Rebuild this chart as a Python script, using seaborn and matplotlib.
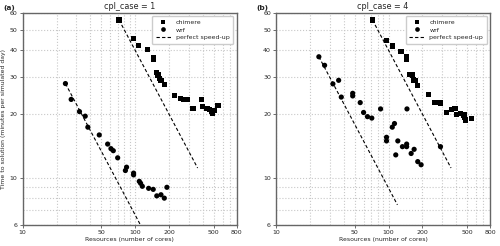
import numpy as np
import pandas as pd
import matplotlib
matplotlib.use("Agg")
import matplotlib.pyplot as plt
import seaborn as sns
from matplotlib.ticker import FixedLocator, FixedFormatter, NullFormatter

# cpl_case = 1
chimere1_cores = [72, 97, 108, 129, 145, 145, 154, 160, 165, 170, 182, 225, 253, 269, 290, 327, 388, 398, 436, 461, 477, 490, 504, 547]
chimere1_time = [55.5, 45.4, 41.9, 40.3, 36.9, 36.3, 31.4, 30.5, 29.4, 28.8, 27.4, 24.5, 23.7, 23.3, 23.4, 21.2, 23.3, 21.6, 21.2, 21.0, 20.5, 20.0, 20.8, 21.9]
wrf1_cores = [24, 27, 32, 36, 38, 48, 57, 61, 64, 70, 82, 84, 97, 97, 109, 112, 116, 132, 145, 156, 170, 182, 192]
wrf1_time = [27.8, 23.4, 20.5, 19.5, 17.3, 15.9, 14.4, 13.7, 13.4, 12.4, 10.8, 11.2, 10.5, 10.3, 9.6, 9.4, 9.1, 8.9, 8.8, 8.2, 8.3, 8.0, 9.0]

# cpl_case = 4
chimere4_cores = [72, 96, 108, 129, 145, 145, 155, 164, 167, 172, 182, 227, 256, 275, 291, 327, 365, 391, 402, 440, 465, 478, 471, 488, 548]
chimere4_time = [55.5, 44.3, 41.8, 39.3, 37.2, 36.3, 30.8, 30.5, 28.9, 28.7, 27.3, 24.7, 22.7, 22.7, 22.5, 20.3, 21.0, 21.2, 19.9, 20.0, 19.7, 19.9, 19.3, 18.7, 19.05]
wrf4_cores = [24, 27, 32, 36, 38, 48, 48, 56, 60, 65, 71, 85, 146, 113, 108, 96, 96, 121, 133, 145, 145, 116, 159, 169, 182, 195, 290]
wrf4_time = [37.2, 33.9, 27.7, 28.8, 24.0, 25.0, 24.3, 22.6, 20.3, 19.4, 19.1, 21.1, 21.1, 18.0, 17.3, 15.5, 14.9, 14.9, 14.0, 14.4, 14.0, 12.8, 13.0, 13.6, 11.9, 11.5, 14.0]

cases = [1, 4]
panel_labels = ["(a)", "(b)"]

frames = []
for case, cc, ct, wc, wt in [(1, chimere1_cores, chimere1_time, wrf1_cores, wrf1_time),
                             (4, chimere4_cores, chimere4_time, wrf4_cores, wrf4_time)]:
    frames.append(pd.DataFrame({"cores": cc, "time": ct, "model": "chimere", "case": case}))
    frames.append(pd.DataFrame({"cores": wc, "time": wt, "model": "wrf", "case": case}))
df = pd.concat(frames, ignore_index=True)

sns.set_style("ticks")
plt.rcParams["font.family"] = ["DejaVu Sans"]

fig, axes = plt.subplots(1, 2, figsize=(5.0, 2.46), dpi=100)
fig.subplots_adjust(left=0.0454, right=0.98, bottom=0.087, top=0.948, wspace=0.185)

for ax, case, lab in zip(axes, cases, panel_labels):
    sub = df[df["case"] == case]
    sns.scatterplot(data=sub, x="cores", y="time", style="model",
                    markers={"chimere": "s", "wrf": "o"}, color="black",
                    s=14, edgecolor="black", linewidth=0, ax=ax, zorder=3)
    # perfect speed-up lines from first point of each model, over a factor 5
    first = True
    for model in ["chimere", "wrf"]:
        m = sub[sub["model"] == model]
        n0 = m["cores"].iloc[0]
        t0 = m["time"].iloc[0]
        n = np.array([n0, 5 * n0])
        ax.plot(n, t0 * n0 / n, ls=(0, (3, 2)), color="black", lw=0.8,
                label="perfect speed-up" if first else None, zorder=2)
        first = False

    ax.set_xscale("log")
    ax.set_yscale("log")
    ax.set_xlim(10, 800)
    ax.set_ylim(6, 60)
    ax.xaxis.set_major_locator(FixedLocator([10, 50, 100, 200, 500, 800]))
    ax.xaxis.set_major_formatter(FixedFormatter(["10", "50", "100", "200", "500", "800"]))
    ax.xaxis.set_minor_locator(FixedLocator([20, 30, 40, 60, 70, 80, 90, 300, 400, 600, 700]))
    ax.xaxis.set_minor_formatter(NullFormatter())
    ax.yaxis.set_major_locator(FixedLocator([6, 10, 20, 30, 40, 50, 60]))
    ax.yaxis.set_major_formatter(FixedFormatter(["6", "10", "20", "30", "40", "50", "60"]))
    ax.yaxis.set_minor_locator(FixedLocator([7, 8, 9]))
    ax.yaxis.set_minor_formatter(NullFormatter())
    ax.grid(which="both", ls=":", color="#c8c8c8", lw=0.8)
    ax.tick_params(which="major", labelsize=4.5, length=2.5, width=0.6, pad=1.2, color="#555555")
    ax.tick_params(which="minor", length=0)
    for sp in ax.spines.values():
        sp.set_color("#666666")
        sp.set_linewidth(1.0)

    ax.set_xlabel("Resources (number of cores)", fontsize=4.4, labelpad=1.5)
    ax.set_title(f"cpl_case = {case}", fontsize=5.8, pad=3)
    ax.text(-0.035, 1.01, lab, transform=ax.transAxes, fontsize=5.3, fontweight="bold",
            ha="right", va="bottom")
    h, l = ax.get_legend_handles_labels()
    ax.legend(h, l, loc="upper right", fontsize=4.5, frameon=True, framealpha=1,
              edgecolor="#cccccc", fancybox=True, borderpad=0.6, handlelength=2.4,
              labelspacing=0.35, markerscale=0.9)

axes[0].set_ylabel("Time to solution (minutes per simulated day)", fontsize=4.4, labelpad=2.5)
axes[1].set_ylabel("")

fig.savefig("out.png", dpi=100)
